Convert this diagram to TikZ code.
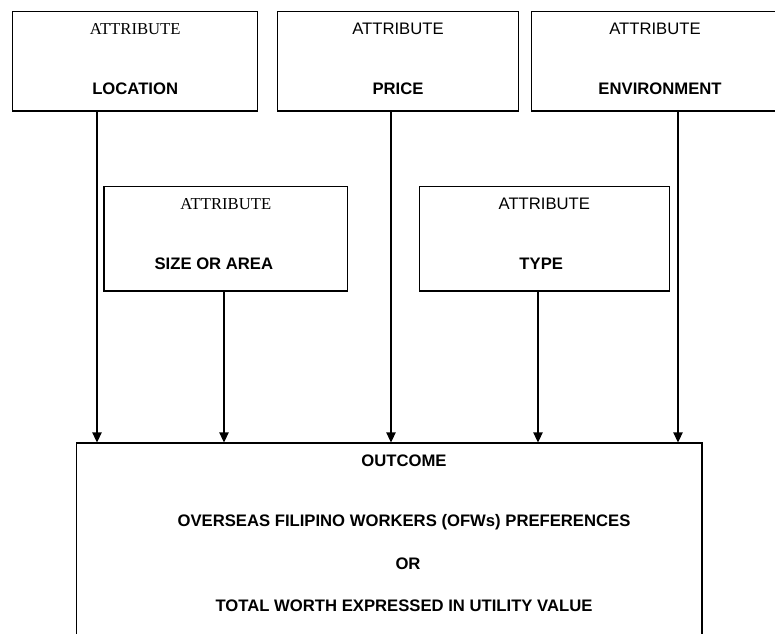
\documentclass[tikz,border=0pt]{standalone}
\usepackage{fontspec}
\setmainfont{Liberation Sans}
\newfontfamily\timesfont{Liberation Serif}
\usetikzlibrary{arrows.meta,positioning}

\begin{document}
\begin{tikzpicture}[
x=0.75pt, y=-0.75pt,
box/.style={draw, line width=0.8pt, minimum height=74.6pt, inner sep=0pt},
lowbox/.style={box, minimum height=78.4pt},
attrhead/.style={anchor=base, inner sep=0pt, font=\fontsize{12.5}{15}\selectfont},
serifhead/.style={attrhead, font=\fontsize{12.5}{15}\selectfont\timesfont},
attrname/.style={anchor=base, inner sep=0pt, font=\fontsize{12.5}{15}\selectfont\bfseries},
arrow/.style={-{Triangle[length=7.5pt,width=7pt]}, line width=0.8pt}
]
\useasboundingbox (0,0) rectangle (775,633);

% top row of attributes
\node[box, minimum width=183.75pt] (loc) at (135.2,61.25) {};
\node[box, minimum width=181pt] (price) at (398,61.25) {};
\node[box, minimum width=188.5pt] (env) at (657.4,61.25) {};

% second row
\node[lowbox, minimum width=182.8pt] (size) at (225.85,238.75) {};
\node[lowbox, minimum width=187.5pt] (type) at (544.3,238.75) {};

% outcome box, runs off the bottom of the page
\node[box, minimum width=469.1pt, minimum height=195pt] (outcome) at (389.25,573) {};

% labels
\node[serifhead] (loc-h) at ([yshift=-17.5pt]loc.north) {ATTRIBUTE};
\node[attrname] (loc-n) at ([yshift=-62.5pt]loc.north) {LOCATION};
\node[attrhead] (price-h) at ([yshift=-17.5pt]price.north) {ATTRIBUTE};
\node[attrname] (price-n) at ([yshift=-62.5pt]price.north) {PRICE};
\node[attrhead] (env-h) at ([xshift=-1.8pt,yshift=-17.5pt]env.north) {ATTRIBUTE};
\node[attrname] (env-n) at ([xshift=2pt,yshift=-62.5pt]env.north) {ENVIRONMENT};
\node[serifhead] (size-h) at ([yshift=-17.5pt]size.north) {ATTRIBUTE};
\node[attrname] (size-n) at ([xshift=-9pt,yshift=-62.5pt]size.north) {SIZE OR AREA};
\node[attrhead] (type-h) at ([yshift=-17.5pt]type.north) {ATTRIBUTE};
\node[attrname] (type-n) at ([xshift=-2.3pt,yshift=-62.5pt]type.north) {TYPE};

\node[attrname] (out-1) at (404,466) {OUTCOME};
\node[attrname] (out-2) at (404,526) {OVERSEAS FILIPINO WORKERS (OFWs) PREFERENCES};
\node[attrname] (out-3) at (408,569) {OR};
\node[attrname] (out-4) at (404,611) {TOTAL WORTH EXPRESSED IN UTILITY VALUE};

% drop points of the arrows
\coordinate (locx) at (97,0);
\coordinate (sizex) at (224,0);
\coordinate (pricex) at (391,0);
\coordinate (typex) at (538,0);
\coordinate (envx) at (678,0);

\draw[arrow] (loc.south -| locx) -- (outcome.north -| locx);
\draw[arrow] (size.south -| sizex) -- (outcome.north -| sizex);
\draw[arrow] (price.south -| pricex) -- (outcome.north -| pricex);
\draw[arrow] (type.south -| typex) -- (outcome.north -| typex);
\draw[arrow] (env.south -| envx) -- (outcome.north -| envx);
\end{tikzpicture}
\end{document}
